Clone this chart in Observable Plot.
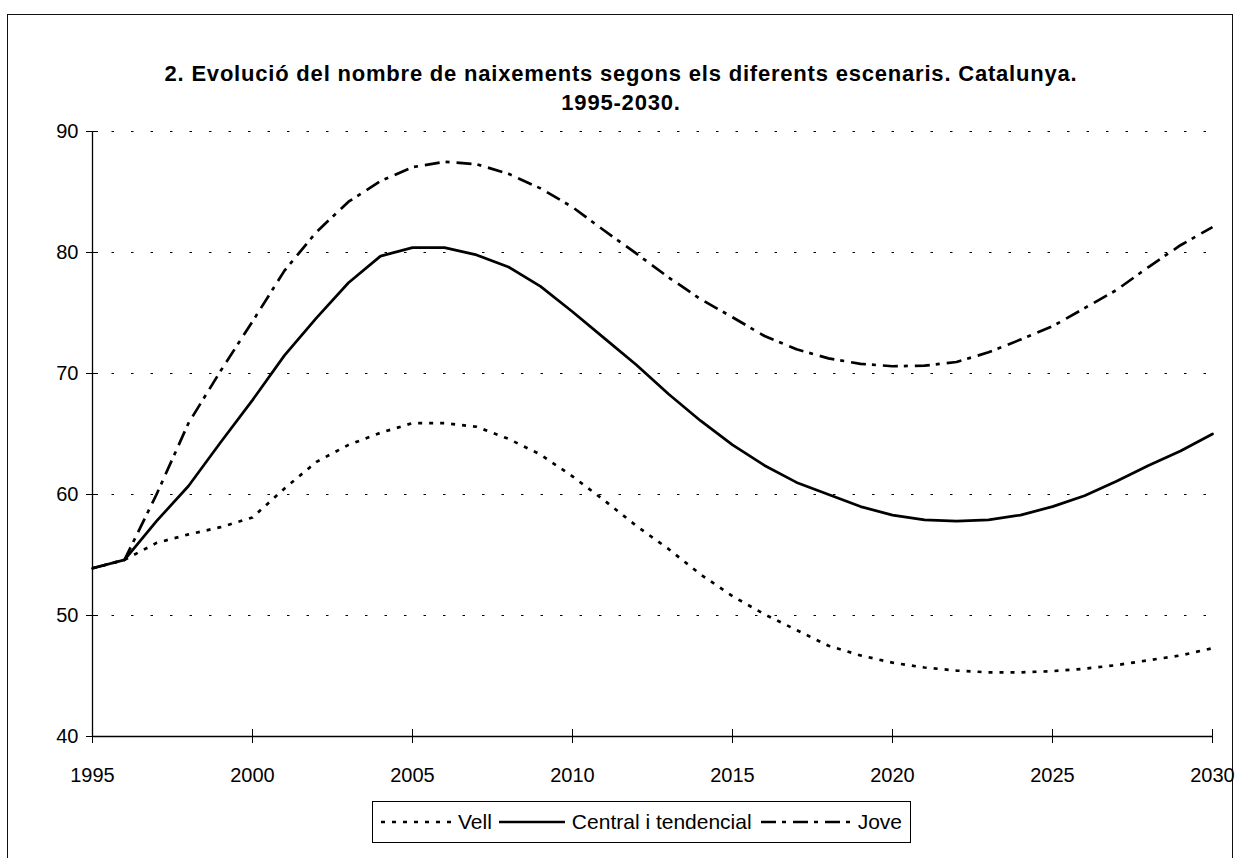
<!DOCTYPE html>
<html>
<head>
<meta charset="utf-8">
<script src="https://cdn.jsdelivr.net/npm/d3@7"></script>
<script src="https://cdn.jsdelivr.net/npm/@observablehq/plot@0.6"></script>
<style>
  html, body { margin: 0; padding: 0; background: #fff; }
  body { width: 1242px; height: 858px; position: relative; overflow: hidden; font-family: "Liberation Sans", Arial, sans-serif; color: #000; }
  #frame { position: absolute; left: 7px; top: 14px; width: 1226px; height: 900px; border: 1.5px solid #111; box-sizing: border-box; }
  #title { position: absolute; left: 0; width: 1242px; top: 59px; text-align: center; font-weight: bold; font-size: 22px; letter-spacing: 0.8px; line-height: 29px; }
  #chart { position: absolute; left: 0; top: 110px; }
  #legend { position: absolute; left: 372px; top: 801px; height: 42px; border: 1px solid #000; box-sizing: border-box; display: flex; align-items: center; padding: 0 8px 0 8px; font-size: 21px; background: #fff; }
  #legend svg { display: block; }
  #legend span { white-space: nowrap; }
</style>
</head>
<body>
<div id="frame"></div>
<div id="title">2. Evolució del nombre de naixements segons els diferents escenaris. Catalunya.<br>1995-2030.</div>
<div id="chart"></div>
<div id="legend"></div>
<script>
const years = [1995, 1996, 1997, 1998, 1999, 2000, 2001, 2002, 2003, 2004, 2005, 2006,
  2007, 2008, 2009, 2010, 2011, 2012, 2013, 2014, 2015, 2016, 2017, 2018,
  2019, 2020, 2021, 2022, 2023, 2024, 2025, 2026, 2027, 2028, 2029, 2030];
const seriesNames = ["Vell", "Central i tendencial", "Jove"];
const vell = [53.9, 54.6, 56.0, 56.7, 57.3, 58.1, 60.5, 62.7, 64.1, 65.1, 65.9, 65.9,
  65.6, 64.6, 63.3, 61.5, 59.5, 57.4, 55.5, 53.4, 51.6, 50.1, 48.8, 47.5,
  46.7, 46.1, 45.7, 45.45, 45.3, 45.3, 45.4, 45.6, 45.9, 46.3, 46.7, 47.3];
const central = [53.9, 54.6, 57.8, 60.7, 64.3, 67.8, 71.5, 74.6, 77.5, 79.7, 80.4, 80.4,
  79.8, 78.8, 77.2, 75.1, 72.9, 70.7, 68.3, 66.1, 64.1, 62.4, 61.0, 60.0,
  59.0, 58.3, 57.9, 57.8, 57.9, 58.3, 59.0, 59.9, 61.1, 62.4, 63.6, 65.0];
const jove = [53.9, 54.6, 60.0, 65.9, 70.2, 74.3, 78.5, 81.7, 84.2, 85.9, 87.05, 87.5,
  87.3, 86.5, 85.3, 83.75, 81.8, 79.9, 77.95, 76.15, 74.65, 73.1, 72.0, 71.25,
  70.8, 70.6, 70.65, 70.95, 71.75, 72.8, 73.9, 75.4, 76.9, 78.8, 80.6, 82.1];
const xTicks = [1995, 2000, 2005, 2010, 2015, 2020, 2025, 2030];
const yTicks = [40, 50, 60, 70, 80, 90];
const gridValues = [50, 60, 70, 80, 90];

const styles = {
  "Vell": {dash: "4 7", width: 2.7},
  "Central i tendencial": {dash: null, width: 2.7},
  "Jove": {dash: "15 6 4 7", width: 2.7}
};

const valuesBySeries = {"Vell": vell, "Central i tendencial": central, "Jove": jove};
const rows = seriesNames.map(name => years.map((year, i) => ({series: name, year, value: valuesBySeries[name][i]})));

const lineMarks = seriesNames.map((name, k) => Plot.line(rows[k], {
  x: "year", y: "value", stroke: "#000", strokeWidth: styles[name].width,
  strokeDasharray: styles[name].dash, strokeLinejoin: "round", strokeLinecap: styles[name].dash ? "butt" : "round"
}));

const chart = Plot.plot({
  width: 1242,
  height: 690,
  marginLeft: 92,
  marginRight: 30,
  marginTop: 21,
  marginBottom: 64,
  style: {fontFamily: "'Liberation Sans', Arial, sans-serif", fontSize: "20px", color: "#000", background: "transparent", overflow: "visible"},
  x: {domain: [1995, 2030]},
  y: {domain: [40, 90]},
  marks: [
    Plot.ruleY(gridValues, {stroke: "#000", strokeWidth: 1.2, strokeDasharray: "2.5 17"}),
    Plot.axisY({ticks: yTicks, tickSize: 6, tickPadding: 8, label: null, stroke: "#000", strokeOpacity: 1, tickFormat: d => String(d)}),
    Plot.axisY({ticks: yTicks, tickSize: -6, text: null, label: null, stroke: "#000", strokeOpacity: 1}),
    Plot.axisX({ticks: xTicks, tickSize: 7, tickPadding: 24, label: null, stroke: "#000", strokeOpacity: 1, tickFormat: d => String(d)}),
    Plot.axisX({ticks: xTicks, tickSize: -7, text: null, label: null, stroke: "#000", strokeOpacity: 1}),
    Plot.ruleX([1995], {stroke: "#000", strokeWidth: 1.3}),
    Plot.ruleY([40], {stroke: "#000", strokeWidth: 1.3}),
    ...lineMarks
  ]
});
document.getElementById("chart").appendChild(chart);

// Legend
const legend = d3.select("#legend");
const sampleW = {"Vell": 70, "Central i tendencial": 66, "Jove": 90};
const gapBefore = {"Vell": 0, "Central i tendencial": 7, "Jove": 9};
const gapAfter = {"Vell": 7, "Central i tendencial": 7, "Jove": 7};
seriesNames.forEach((name) => {
  const svg = legend.append("svg").attr("width", sampleW[name]).attr("height", 12)
    .style("margin-left", gapBefore[name] + "px").style("margin-right", gapAfter[name] + "px");
  svg.append("line").attr("x1", 0).attr("x2", sampleW[name]).attr("y1", 6).attr("y2", 6)
    .attr("stroke", "#000").attr("stroke-width", styles[name].width)
    .attr("stroke-dasharray", styles[name].dash);
  legend.append("span").text(name);
});
</script>
</body>
</html>
